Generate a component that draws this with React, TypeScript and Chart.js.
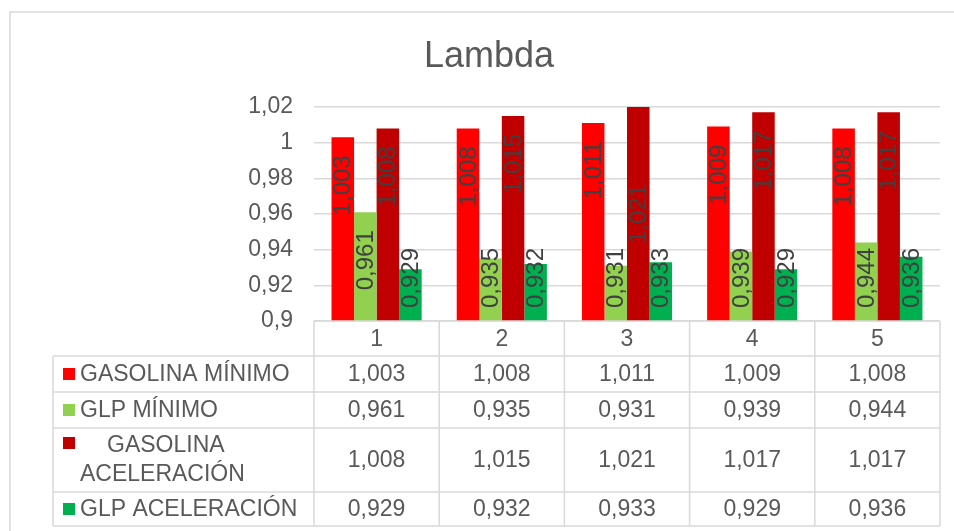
import React, { useEffect, useRef } from "react";
import { Chart, registerables } from "chart.js";

Chart.register(...registerables);

const categories = ["1", "2", "3", "4", "5"];
const seriesNames = ["GASOLINA MÍNIMO", "GLP MÍNIMO", "GASOLINA ACELERACIÓN", "GLP ACELERACIÓN"];
const gasolinaMinimo = [1.003, 1.008, 1.011, 1.009, 1.008];
const glpMinimo = [0.961, 0.935, 0.931, 0.939, 0.944];
const gasolinaAceleracion = [1.008, 1.015, 1.021, 1.017, 1.017];
const glpAceleracion = [0.929, 0.932, 0.933, 0.929, 0.936];
const seriesColors = ["#FF0000", "#92D050", "#C00000", "#00B050"];
const yMin = 0.9;
const yMax = 1.02;
const yStep = 0.02;

const FONT = "'Liberation Sans', Arial, sans-serif";
const TEXT = "#595959";
const GRID = "#D9D9D9";

const fmt = (v: number, d: number) => v.toFixed(d).replace(".", ",");

const tablePlugin = {
  id: "tableAndLabels",
  afterDatasetsDraw(chart: any) {
    const ctx = chart.ctx as CanvasRenderingContext2D;
    const area = chart.chartArea;
    const base = area.bottom;
    ctx.save();
    ctx.font = `24px ${FONT}`;
    ctx.fillStyle = "#404040";
    chart.data.datasets.forEach((ds: any, di: number) => {
      const meta = chart.getDatasetMeta(di);
      meta.data.forEach((el: any, i: number) => {
        const v = ds.data[i];
        const txt = fmt(v, 3);
        const w = ctx.measureText(txt).width;
        let top: number;
        if (v > yMax) {
          top = (area.top + base) / 2 - w / 2;
        } else {
          top = Math.min(el.y + 18, base - 13 - w);
        }
        ctx.save();
        ctx.translate(el.x, top + w);
        ctx.rotate(-Math.PI / 2);
        ctx.textAlign = "left";
        ctx.textBaseline = "middle";
        ctx.fillText(txt, 0, 1);
        ctx.restore();
      });
    });
    ctx.restore();
  },
  afterDraw(chart: any) {
    const ctx = chart.ctx as CanvasRenderingContext2D;
    const area = chart.chartArea;
    const left = area.left;
    const right = area.right;
    const colW = (right - left) / categories.length;
    const legendLeft = 53;
    const rowsY = [area.bottom, 356, 392, 428, 492, 526];
    ctx.save();
    ctx.strokeStyle = GRID;
    ctx.lineWidth = 1.5;
    ctx.strokeRect(10, 12, 1000, 600);
    ctx.beginPath();
    ctx.moveTo(left, rowsY[0]);
    ctx.lineTo(right, rowsY[0]);
    for (let r = 1; r < rowsY.length; r++) {
      ctx.moveTo(legendLeft, rowsY[r]);
      ctx.lineTo(right, rowsY[r]);
    }
    ctx.moveTo(legendLeft, rowsY[1]);
    ctx.lineTo(legendLeft, rowsY[rowsY.length - 1]);
    for (let c = 0; c <= categories.length; c++) {
      const x = left + c * colW;
      ctx.moveTo(x, rowsY[0]);
      ctx.lineTo(x, rowsY[rowsY.length - 1]);
    }
    ctx.stroke();

    ctx.fillStyle = TEXT;
    ctx.font = `23px ${FONT}`;
    ctx.textAlign = "center";
    ctx.textBaseline = "middle";
    categories.forEach((c, i) => {
      ctx.fillText(c, left + (i + 0.5) * colW, (rowsY[0] + rowsY[1]) / 2 + 1);
    });
    const allSeries = [gasolinaMinimo, glpMinimo, gasolinaAceleracion, glpAceleracion];
    allSeries.forEach((s, si) => {
      const yc = (rowsY[si + 1] + rowsY[si + 2]) / 2 + 1;
      ctx.textAlign = "center";
      ctx.fillStyle = TEXT;
      s.forEach((v, i) => {
        ctx.fillText(fmt(v, 3), left + (i + 0.5) * colW, yc);
      });
      const name = seriesNames[si];
      ctx.textAlign = "left";
      if (si === 2) {
        const parts = name.split(" ");
        ctx.fillStyle = seriesColors[si];
        ctx.fillRect(63, yc - 24, 12, 12);
        ctx.fillStyle = TEXT;
        ctx.fillText(parts[0], 107, yc - 15);
        ctx.fillText(parts[1], 80, yc + 14);
      } else {
        ctx.fillStyle = seriesColors[si];
        ctx.fillRect(63, yc - 7, 12, 12);
        ctx.fillStyle = TEXT;
        ctx.fillText(name, 80, yc);
      }
    });
    ctx.font = `36px ${FONT}`;
    ctx.textAlign = "center";
    ctx.textBaseline = "alphabetic";
    ctx.fillStyle = TEXT;
    ctx.fillText("Lambda", 489, 67);
    ctx.restore();
  },
};

export default function App() {
  const ref = useRef<HTMLCanvasElement>(null);
  useEffect(() => {
    if (!ref.current) return;
    const data = [gasolinaMinimo, glpMinimo, gasolinaAceleracion, glpAceleracion];
    const chart = new Chart(ref.current, {
      type: "bar",
      data: {
        labels: categories,
        datasets: data.map((d, i) => ({
          label: seriesNames[i],
          data: d,
          backgroundColor: seriesColors[i],
          borderWidth: 0,
          barPercentage: 1,
          categoryPercentage: 0.72,
        })),
      },
      options: {
        responsive: false,
        animation: false,
        devicePixelRatio: 1,
        layout: { padding: { left: 10, right: 14, top: 107, bottom: 210 } },
        plugins: {
          legend: { display: false },
          title: { display: false },
          tooltip: { enabled: false },
        },
        scales: {
          x: { display: false },
          y: {
            min: yMin,
            max: yMax,
            afterFit: (s: any) => {
              s.width = 304;
            },
            ticks: {
              stepSize: yStep,
              padding: 21,
              color: TEXT,
              font: { family: FONT, size: 23 },
              callback: (v: any) => String(Number(Number(v).toFixed(2))).replace(".", ","),
            },
            grid: { color: GRID, lineWidth: 1.5, drawTicks: false },
            border: { display: false },
          },
        },
      },
      plugins: [tablePlugin],
    });
    return () => chart.destroy();
  }, []);
  return (
    <div style={{ position: "absolute", left: 0, top: 0, width: 954, height: 531, background: "#fff" }}>
      <canvas ref={ref} width={954} height={531} style={{ display: "block" }} />
    </div>
  );
}
